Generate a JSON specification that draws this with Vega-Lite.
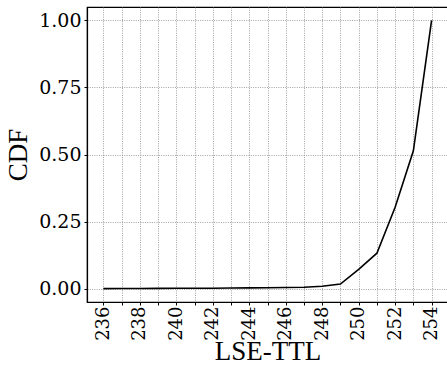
{
  "$schema": "https://vega.github.io/schema/vega-lite/v6.json",
  "width": 361,
  "height": 295,
  "autosize": {"type": "none"},
  "padding": {"left": 87, "top": 7, "right": 0, "bottom": 67},
  "background": "white",
  "config": {
    "font": "Liberation Serif",
    "view": {"stroke": "black", "strokeWidth": 1.2},
    "axis": {
      "domain": true,
      "domainColor": "black",
      "domainWidth": 1.2,
      "tickColor": "black",
      "tickSize": 3,
      "gridColor": "#8a8a8a",
      "gridDash": [1, 1.3],
      "gridWidth": 0.8
    }
  },
  "data": {
    "values": [
      {"x": 236, "y": 0.0},
      {"x": 237, "y": 0.0003},
      {"x": 238, "y": 0.0005},
      {"x": 239, "y": 0.0007},
      {"x": 240, "y": 0.001},
      {"x": 241, "y": 0.0012},
      {"x": 242, "y": 0.0015},
      {"x": 243, "y": 0.002},
      {"x": 244, "y": 0.0025},
      {"x": 245, "y": 0.003},
      {"x": 246, "y": 0.004},
      {"x": 247, "y": 0.005},
      {"x": 248, "y": 0.009},
      {"x": 249, "y": 0.017},
      {"x": 250, "y": 0.072},
      {"x": 251, "y": 0.132},
      {"x": 252, "y": 0.303},
      {"x": 253, "y": 0.514},
      {"x": 254, "y": 1.0}
    ]
  },
  "mark": {"type": "line", "color": "black", "strokeWidth": 1.6, "clip": true},
  "encoding": {
    "x": {
      "field": "x",
      "type": "quantitative",
      "title": "LSE-TTL",
      "scale": {"domain": [235.1, 254.9], "nice": false, "zero": false},
      "axis": {
        "values": [236, 237, 238, 239, 240, 241, 242, 243, 244, 245, 246, 247, 248, 249, 250, 251, 252, 253, 254],
        "labelExpr": "datum.value % 2 == 0 ? datum.label : ''",
        "labelFont": "DejaVu Serif",
        "titleFont": "Liberation Serif",
        "labelFontSize": 18,
        "titleFontSize": 27,
        "titleFontWeight": "normal",
        "labelColor": "black",
        "titleColor": "black",
        "labelAngle": -90,
        "labelAlign": "right",
        "labelBaseline": "middle",
        "labelPadding": 1,
        "titlePadding": -2,
        "labelFlush": false,
        "labelOverlap": false
      }
    },
    "y": {
      "field": "y",
      "type": "quantitative",
      "title": "CDF",
      "scale": {"domain": [-0.05, 1.05], "nice": false, "zero": false},
      "axis": {
        "values": [0, 0.25, 0.5, 0.75, 1.0],
        "format": ".2f",
        "labelFont": "DejaVu Serif",
        "titleFont": "Liberation Serif",
        "labelFontSize": 19,
        "titleFontSize": 27,
        "titleFontWeight": "normal",
        "labelColor": "black",
        "titleColor": "black",
        "labelPadding": 3,
        "titlePadding": 6,
        "labelFlush": false,
        "labelOverlap": false
      }
    }
  }
}
